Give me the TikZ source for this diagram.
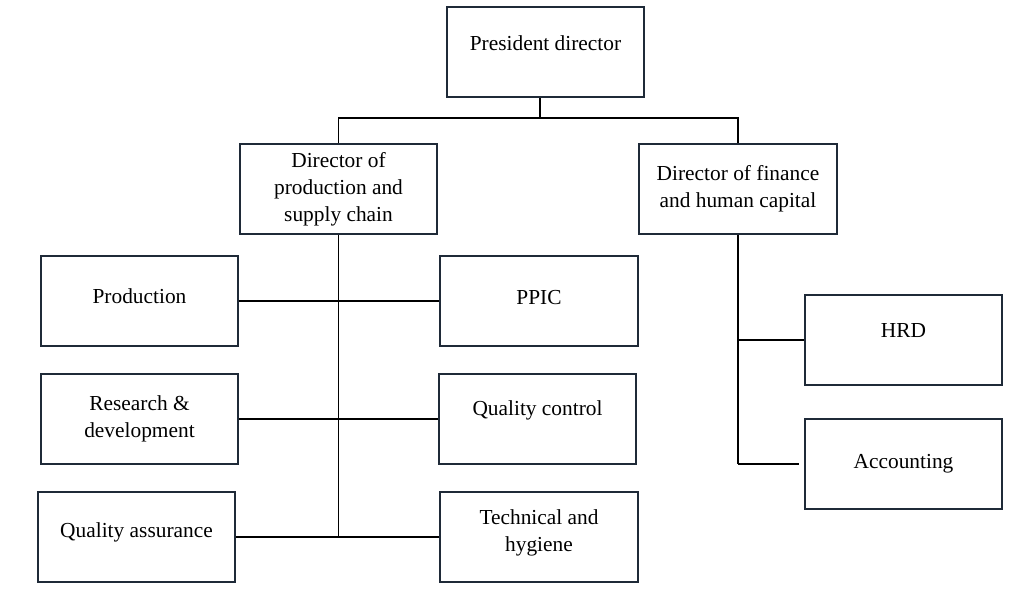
\documentclass[tikz,border=0pt]{standalone}
\usepackage{fontspec}
\setmainfont{Liberation Serif}
\definecolor{boxline}{HTML}{1F2A38}

\begin{document}
\begin{tikzpicture}[x=0.025cm, y=-0.025cm,
		box/.style={draw=boxline, line width=1.4pt, minimum width=4.93cm, minimum height=2.25cm,
			inner sep=0pt, align=center, font=\fontsize{15.2}{19.2}\selectfont},
		link/.style={line width=1.4pt}]
	\useasboundingbox (0,0) rectangle (1011,591);

	% Блоки
	\node[box, text depth=0.47cm] (pres) at (545.5,52) {President director};
	\node[box] (dprod) at (338.5,189) {Director of\\production and\\supply chain};
	\node[box] (dfin) at (738,189) {Director of finance\\and human capital};
	\node[box, text depth=0.25cm] (production) at (139.5,301) {Production};
	\node[box, text depth=0.2cm] (ppic) at (539,301) {PPIC};
	\node[box] (rnd) at (139.5,419) {Research \&\\development};
	\node[box, text depth=0.57cm] (qc) at (537.5,419) {Quality control};
	\node[box, text depth=0.37cm] (qa) at (136.5,537) {Quality assurance};
	\node[box, text depth=0.32cm] (tech) at (539,537) {Technical and\\hygiene};
	\node[box, text depth=0.45cm] (hrd) at (903.5,340) {HRD};
	\node[box] (acc) at (903.5,464) {Accounting};

	% Линии
	\coordinate (bus) at (540,118);
	\draw[link] (pres.south -| bus) -- (bus);
	\draw[link] (dprod.north) |- (bus) -| (dfin.north);

	\draw[link] (dprod.south) -- (dprod.south |- qa.east);
	\draw[link] (production.east) -- (ppic.west);
	\draw[link] (rnd.east) -- (qc.west);
	\draw[link] (qa.east) -- (tech.west);

	\draw[link] (dfin.south) -- (dfin.south |- acc.west);
	\draw[link] (dfin.south |- hrd.west) -- (hrd.west);
	\draw[link, shorten >=0.12cm] (dfin.south |- acc.west) -- (acc.west);
\end{tikzpicture}
\end{document}
